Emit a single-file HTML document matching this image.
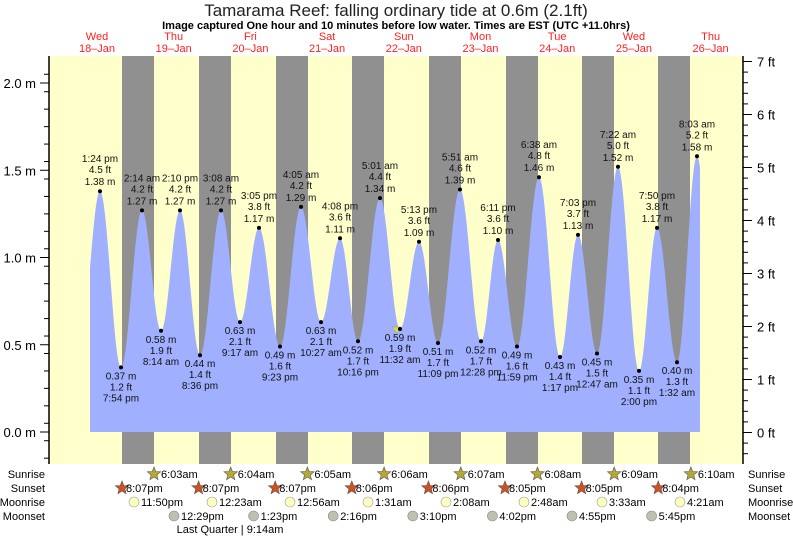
<!DOCTYPE html>
<html><head><meta charset="utf-8"><style>
body{margin:0;background:#fff;width:793px;height:537px;overflow:hidden;font-family:"Liberation Sans",sans-serif}
</style></head><body>
<svg id="s" width="793" height="537" xmlns="http://www.w3.org/2000/svg" font-family="Liberation Sans, sans-serif"></svg>
<script>
const s=document.getElementById('s');let h='';
const Y=m=>432-m*174.5;
h+='<rect x="49" y="56" width="694" height="408" fill="#ffffcc"/>';
[122,199,276,352,429,506,582,658].forEach(x=>h+=`<rect x="${x}" y="56" width="32" height="408" fill="#909090"/>`);
const P=[[80,0.5],[100,1.38],[121,.37],[142,1.27],[161,.58],[180,1.27],[200,.44],[221,1.27],[240,.63],[259,1.17],[280,.49],[301,1.29],[321,.63],[340,1.11],[358,.52],[380,1.34],[400,.59],[419,1.09],[438,.51],[460,1.39],[481,.52],[498,1.10],[517,.49],[539,1.46],[560,.43],[578,1.13],[597,.45],[618,1.52],[639,.35],[657,1.17],[677,.40],[697,1.58],[717,0.4]];
let d='M90,432';
for(let x=90;x<=700;x+=0.5){let i=0;while(P[i+1][0]<x)i++;const a=P[i],b=P[i+1];const t=(x-a[0])/(b[0]-a[0]);const v=a[1]+(b[1]-a[1])*(1-Math.cos(Math.PI*t))/2;d+=`L${x},${Y(v).toFixed(1)}`;}
d+='L700,432Z';
h+=`<path d="${d}" fill="#a0b0ff"/>`;
const L=[["1:24 pm","4.5 ft","1.38 m"],["0.37 m","1.2 ft","7:54 pm"],["2:14 am","4.2 ft","1.27 m"],["0.58 m","1.9 ft","8:14 am"],["2:10 pm","4.2 ft","1.27 m"],["0.44 m","1.4 ft","8:36 pm"],["3:08 am","4.2 ft","1.27 m"],["0.63 m","2.1 ft","9:17 am"],["3:05 pm","3.8 ft","1.17 m"],["0.49 m","1.6 ft","9:23 pm"],["4:05 am","4.2 ft","1.29 m"],["0.63 m","2.1 ft","10:27 am"],["4:08 pm","3.6 ft","1.11 m"],["0.52 m","1.7 ft","10:16 pm"],["5:01 am","4.4 ft","1.34 m"],["0.59 m","1.9 ft","11:32 am"],["5:13 pm","3.6 ft","1.09 m"],["0.51 m","1.7 ft","11:09 pm"],["5:51 am","4.6 ft","1.39 m"],["0.52 m","1.7 ft","12:28 pm"],["6:11 pm","3.6 ft","1.10 m"],["0.49 m","1.6 ft","11:59 pm"],["6:38 am","4.8 ft","1.46 m"],["0.43 m","1.4 ft","1:17 pm"],["7:03 pm","3.7 ft","1.13 m"],["0.45 m","1.5 ft","12:47 am"],["7:22 am","5.0 ft","1.52 m"],["0.35 m","1.1 ft","2:00 pm"],["7:50 pm","3.8 ft","1.17 m"],["0.40 m","1.3 ft","1:32 am"],["8:03 am","5.2 ft","1.58 m"]];
L.forEach((l,k)=>{const [x,m]=P[k+1];const y=Y(m);
if(k==15)h+=`<polygon points="${x-8},${y-2} ${x+2},${y-2} ${x-3},${y+4}" fill="#e0e020" stroke="#999" stroke-width=".5"/>`;
h+=`<circle cx="${x}" cy="${y}" r="2" fill="#000"/>`;
const hi=k%2==0;const ys=hi?[y-29,y-18,y-6]:[y+12,y+23,y+34];
l.forEach((t,j)=>h+=`<text x="${x}" y="${ys[j]}" font-size="10" text-anchor="middle" fill="#111">${t}</text>`);});
h+='<line x1="49" y1="56" x2="49" y2="464" stroke="#000" stroke-width="1.5"/><line x1="743" y1="56" x2="743" y2="464" stroke="#000" stroke-width="1.5"/>';
for(let m=-0.15;m<=2.15;m+=0.1){const y=Y(m);if(y<56||y>464)continue;h+=`<line x1="44" y1="${y}" x2="49" y2="${y}" stroke="#000"/>`;}
[0,0.5,1,1.5,2].forEach(m=>{const y=Y(m);h+=`<line x1="40" y1="${y}" x2="49" y2="${y}" stroke="#000"/><text x="36" y="${y+5}" font-size="13" text-anchor="end">${m.toFixed(1)} m</text>`;});
for(let f=-1;f<=7;f+=0.2){const y=432.5-f*53.0;if(y<56||y>464)continue;h+=`<line x1="743" y1="${y}" x2="748" y2="${y}" stroke="#000"/>`;}
for(let f=0;f<=7;f++){const y=432.5-f*53.0;h+=`<line x1="743" y1="${y}" x2="752" y2="${y}" stroke="#000"/><text x="757" y="${y+5}" font-size="13">${f} ft</text>`;}
h+='<text x="396" y="16" font-size="17" text-anchor="middle" fill="#222">Tamarama Reef: falling  ordinary tide at 0.6m (2.1ft)</text>';
h+='<text x="396" y="29" font-size="11" font-weight="bold" text-anchor="middle">Image captured One hour and 10 minutes before low water. Times are EST (UTC +11.0hrs)</text>';
const D=[["Wed","18–Jan"],["Thu","19–Jan"],["Fri","20–Jan"],["Sat","21–Jan"],["Sun","22–Jan"],["Mon","23–Jan"],["Tue","24–Jan"],["Wed","25–Jan"],["Thu","26–Jan"]];
D.forEach((dd,i)=>{const x=97+i*76.7;h+=`<text x="${x}" y="40" font-size="11" text-anchor="middle" fill="#ff2020">${dd[0]}</text><text x="${x}" y="52" font-size="11" text-anchor="middle" fill="#ff2020">${dd[1]}</text>`;});
[["Sunrise",478],["Sunset",492],["Moonrise",506],["Moonset",520]].forEach(r=>{h+=`<text x="45" y="${r[1]}" font-size="11" text-anchor="end">${r[0]}</text><text x="748" y="${r[1]}" font-size="11">${r[0]}</text>`;});
const star=(x,y,c)=>{let p='';for(let i=0;i<10;i++){const r=i%2?3:7;const a=-Math.PI/2+i*Math.PI/5;p+=`${(x+r*Math.cos(a)).toFixed(1)},${(y+r*Math.sin(a)).toFixed(1)} `;}return `<polygon points="${p}" fill="${c}" stroke="#555" stroke-width=".6"/>`;};
["6:03am","6:04am","6:05am","6:06am","6:07am","6:08am","6:09am","6:10am"].forEach((t,i)=>{const x=154+i*76.7;h+=star(x,474,'#b8a830')+`<text x="${x+7}" y="478" font-size="11">${t}</text>`;});
["8:07pm","8:07pm","8:07pm","8:06pm","8:06pm","8:05pm","8:05pm","8:04pm"].forEach((t,i)=>{const x=122+i*76.6;h+=star(x,488,'#d05020')+`<text x="${x+4}" y="492" font-size="11">${t}</text>`;});
["11:50pm","12:23am","12:56am","1:31am","2:08am","2:48am","3:33am","4:21am"].forEach((t,i)=>{const x=134+i*78;h+=`<circle cx="${x}" cy="502" r="5" fill="#ffffc0" stroke="#999" stroke-width=".6"/><text x="${x+7}" y="506" font-size="11">${t}</text>`;});
["12:29pm","1:23pm","2:16pm","3:10pm","4:02pm","4:55pm","5:45pm"].forEach((t,i)=>{const x=174+i*79.6;h+=`<circle cx="${x}" cy="516" r="5" fill="#c0c0b0" stroke="#888" stroke-width=".6"/><text x="${x+7}" y="520" font-size="11">${t}</text>`;});
h+='<text x="230" y="533" font-size="11" text-anchor="middle">Last Quarter | 9:14am</text>';
s.innerHTML=h;
</script>
</body></html>
